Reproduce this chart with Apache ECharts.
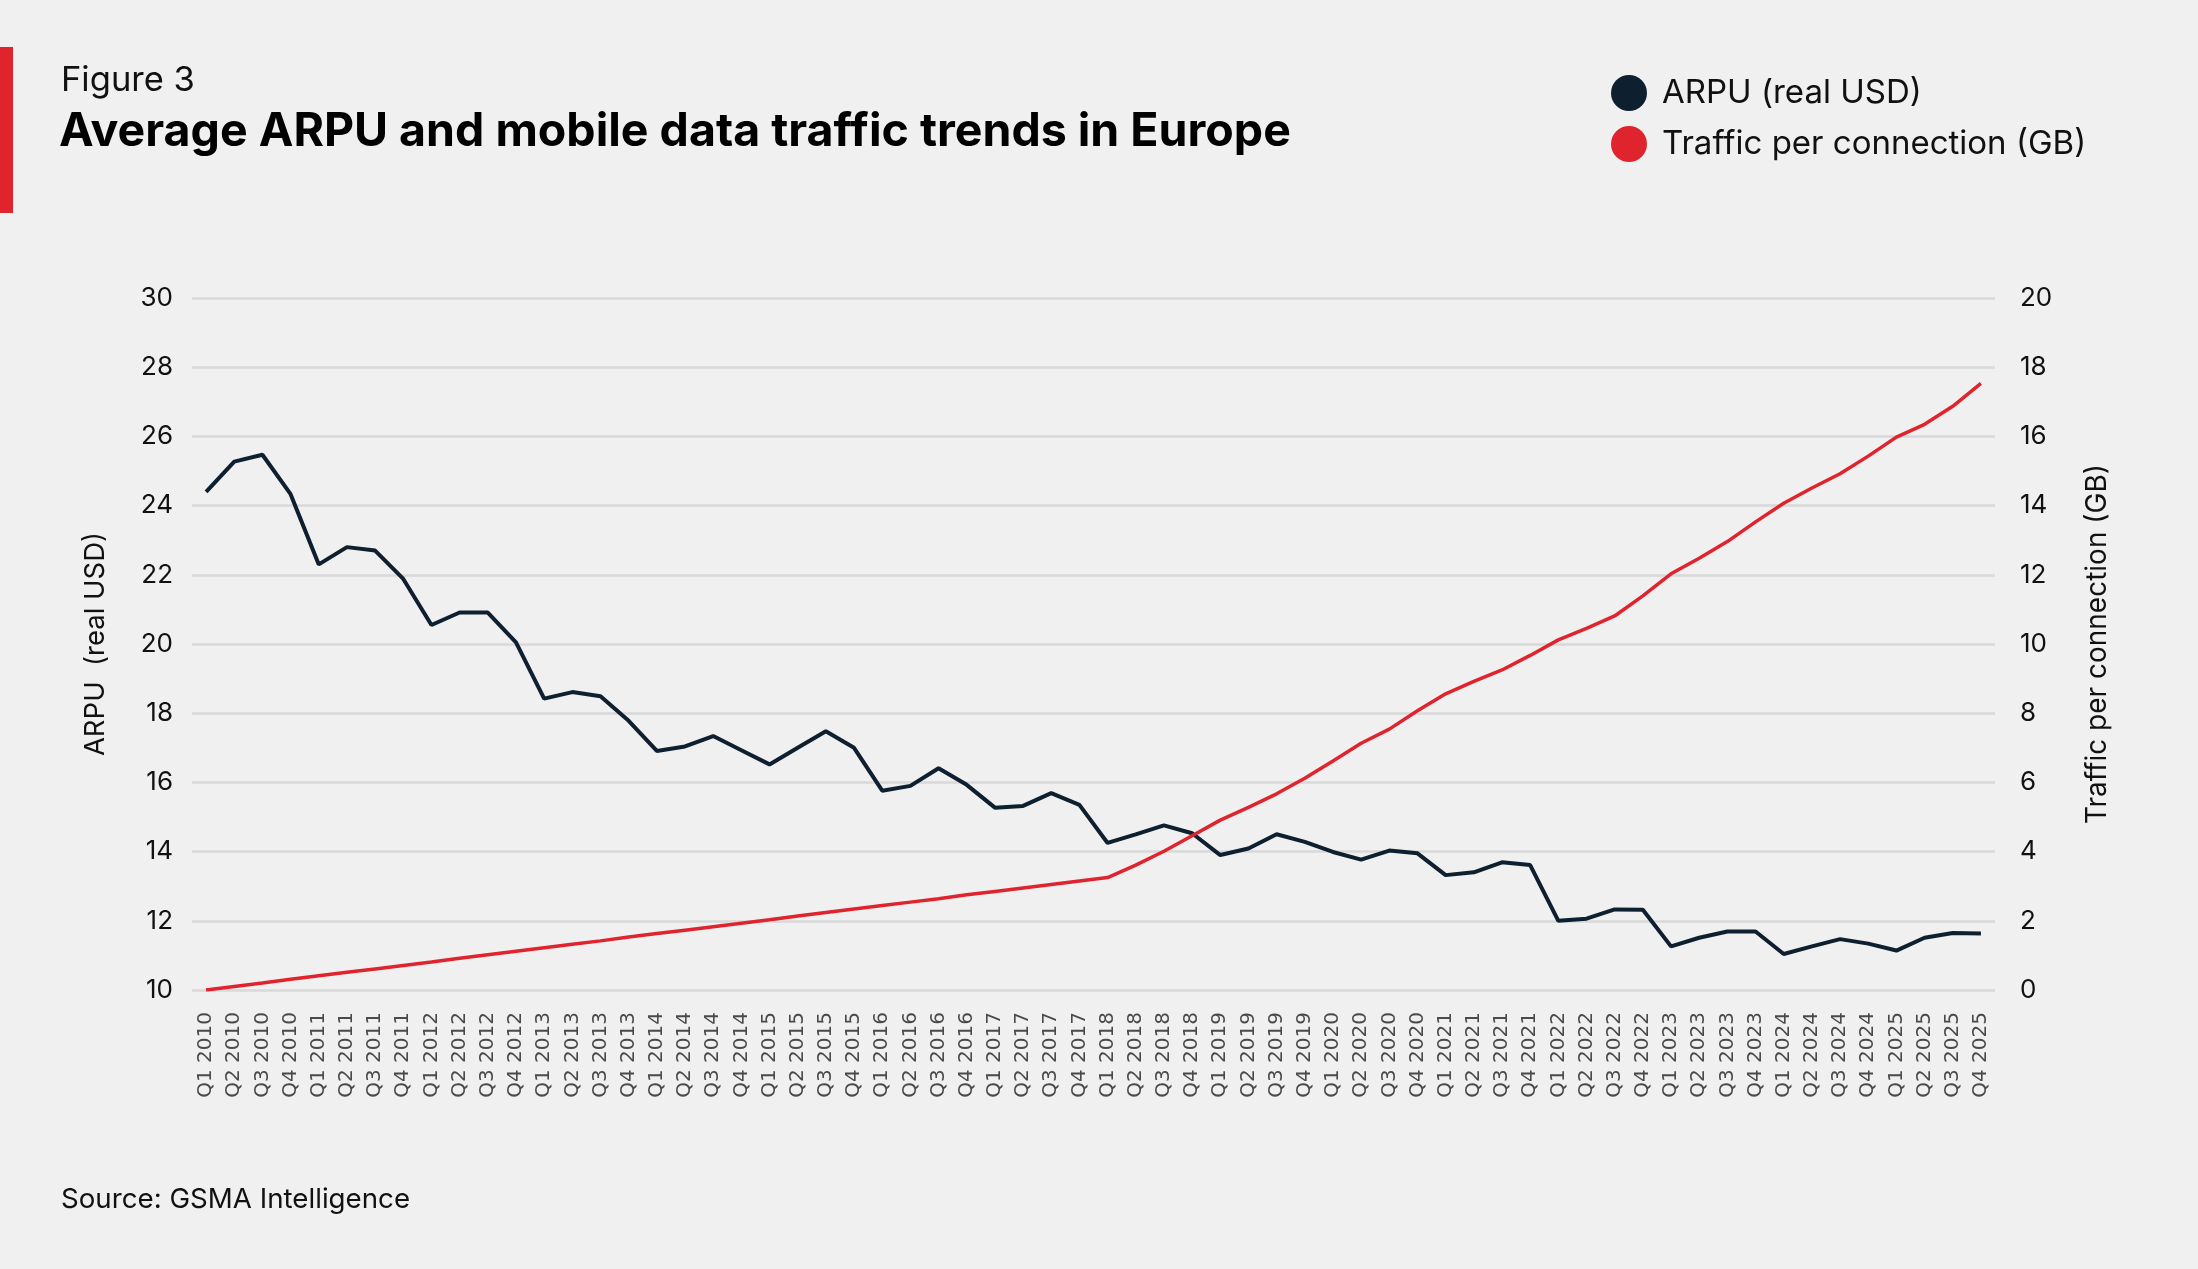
<!DOCTYPE html>
<html>
<head>
<meta charset="utf-8">
<script src="https://cdn.jsdelivr.net/npm/echarts@6/dist/echarts.min.js"></script>
<style>
  html, body { margin: 0; padding: 0; background: #f0f0f0; }
  #chart { width: 2198px; height: 1269px; }
</style>
</head>
<body>
<div id="chart"></div>
<script>
var quarters = [
  'Q1 2010','Q2 2010','Q3 2010','Q4 2010','Q1 2011','Q2 2011','Q3 2011','Q4 2011',
  'Q1 2012','Q2 2012','Q3 2012','Q4 2012','Q1 2013','Q2 2013','Q3 2013','Q4 2013',
  'Q1 2014','Q2 2014','Q3 2014','Q4 2014','Q1 2015','Q2 2015','Q3 2015','Q4 2015',
  'Q1 2016','Q2 2016','Q3 2016','Q4 2016','Q1 2017','Q2 2017','Q3 2017','Q4 2017',
  'Q1 2018','Q2 2018','Q3 2018','Q4 2018','Q1 2019','Q2 2019','Q3 2019','Q4 2019',
  'Q1 2020','Q2 2020','Q3 2020','Q4 2020','Q1 2021','Q2 2021','Q3 2021','Q4 2021',
  'Q1 2022','Q2 2022','Q3 2022','Q4 2022','Q1 2023','Q2 2023','Q3 2023','Q4 2023',
  'Q1 2024','Q2 2024','Q3 2024','Q4 2024','Q1 2025','Q2 2025','Q3 2025','Q4 2025'
];

// ARPU (real USD), left axis
var arpu = [
  24.40, 25.27, 25.47, 24.33, 22.30, 22.80, 22.70, 21.88,
  20.55, 20.91, 20.91, 20.05, 18.42, 18.61, 18.49, 17.78,
  16.91, 17.04, 17.34, 16.93, 16.52, 17.00, 17.48, 17.00,
  15.76, 15.90, 16.41, 15.93, 15.27, 15.32, 15.69, 15.35,
  14.25, 14.50, 14.76, 14.53, 13.90, 14.09, 14.50, 14.28,
  13.99, 13.77, 14.03, 13.95, 13.32, 13.40, 13.69, 13.61,
  12.00, 12.06, 12.33, 12.32, 11.26, 11.51, 11.69, 11.69,
  11.04, 11.26, 11.47, 11.34, 11.14, 11.51, 11.65, 11.63
];

// Traffic per connection (GB), right axis
var traffic = [
  0.00, 0.10, 0.20, 0.31, 0.41, 0.51, 0.61, 0.71,
  0.81, 0.92, 1.02, 1.12, 1.22, 1.32, 1.42, 1.53,
  1.63, 1.73, 1.83, 1.93, 2.03, 2.14, 2.24, 2.34,
  2.44, 2.54, 2.64, 2.75, 2.85, 2.95, 3.05, 3.15,
  3.25, 3.61, 4.01, 4.46, 4.91, 5.28, 5.67, 6.12,
  6.62, 7.13, 7.54, 8.07, 8.56, 8.92, 9.25, 9.67,
  10.12, 10.45, 10.81, 11.39, 12.03, 12.48, 12.96, 13.53,
  14.07, 14.51, 14.92, 15.43, 15.98, 16.35, 16.87, 17.53
];

var navy = '#0e1f2f';
var red = '#e0242e';
var font = 'Inter, "Noto Sans", sans-serif';

var mychart = echarts.init(document.getElementById('chart'));

var option = {
  backgroundColor: '#f0f0f0',
  animation: false,
  textStyle: { fontFamily: font },
  title: [
    {
      text: 'Figure 3',
      left: 56, top: 58,
      textStyle: { fontFamily: font, fontSize: 34.5, fontWeight: 'normal', color: '#111' }
    },
    {
      text: 'Average ARPU and mobile data traffic trends in Europe',
      left: 54, top: 104,
      textStyle: { fontFamily: font, fontSize: 46.5, fontWeight: 'bold', color: '#000' }
    },
    {
      text: 'Source: GSMA Intelligence',
      left: 56, top: 1181,
      textStyle: { fontFamily: font, fontSize: 27.7, fontWeight: 'normal', color: '#111' }
    }
  ],
  graphic: [
    { type: 'rect', left: 0, top: 47, shape: { width: 13, height: 166 }, style: { fill: red } }
  ],
  legend: {
    orient: 'vertical',
    left: 1606, top: 70,
    icon: 'circle',
    itemWidth: 36, itemHeight: 36,
    itemGap: 15,
    textStyle: { fontFamily: font, fontSize: 33, color: '#111', padding: [0, 0, 0, 10] },
    data: ['ARPU (real USD)', 'Traffic per connection (GB)']
  },
  grid: { left: 192, right: 203, top: 298, bottom: 279 },
  xAxis: {
    type: 'category',
    data: quarters,
    boundaryGap: true,
    axisLine: { show: false },
    axisTick: { show: false },
    axisLabel: {
      rotate: 90, interval: 0, margin: 22,
      fontFamily: '"DejaVu Sans", sans-serif', fontSize: 20, color: '#4a4a4a'
    }
  },
  yAxis: [
    {
      type: 'value', min: 10, max: 30, interval: 2,
      name: 'ARPU  (real USD)', nameLocation: 'middle', nameRotate: 90, nameGap: 82,
      nameTextStyle: { fontFamily: font, fontSize: 27.5, color: '#111' },
      axisLine: { show: false }, axisTick: { show: false },
      axisLabel: { fontFamily: font, fontSize: 26, color: '#111', margin: 19 },
      splitLine: { lineStyle: { color: '#d9d9d9', width: 2.5 } }
    },
    {
      type: 'value', min: 0, max: 20, interval: 2,
      name: 'Traffic per connection (GB)', nameLocation: 'middle', nameRotate: 90, nameGap: 89,
      nameTextStyle: { fontFamily: font, fontSize: 28, color: '#111' },
      axisLine: { show: false }, axisTick: { show: false },
      axisLabel: { fontFamily: font, fontSize: 26, color: '#111', margin: 25 },
      splitLine: { show: false }
    }
  ],
  series: [
    {
      name: 'ARPU (real USD)',
      type: 'line',
      yAxisIndex: 0,
      data: arpu,
      symbol: 'none',
      color: navy,
      lineStyle: { color: navy, width: 4 }
    },
    {
      name: 'Traffic per connection (GB)',
      type: 'line',
      yAxisIndex: 1,
      data: traffic,
      symbol: 'none',
      color: red,
      lineStyle: { color: red, width: 3.5 }
    }
  ]
};

mychart.setOption(option);
</script>
</body>
</html>
